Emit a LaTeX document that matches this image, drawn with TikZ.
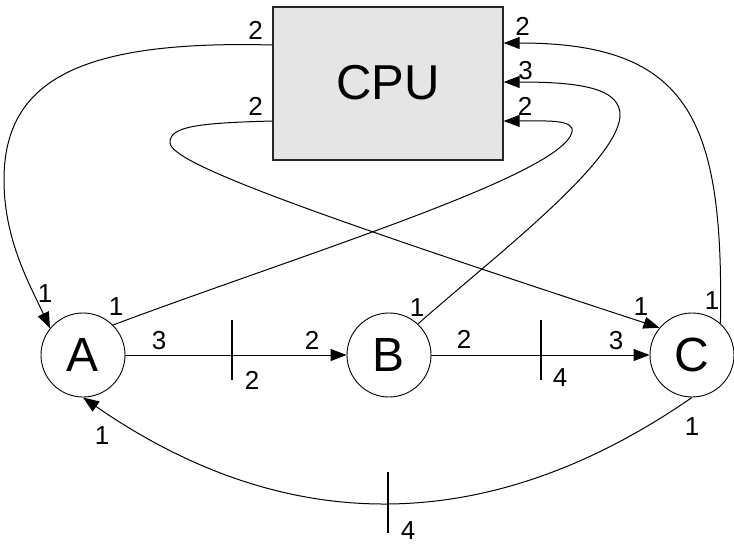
\documentclass[tikz,border=0pt]{standalone}
\usepackage{fontspec}
\setmainfont{Liberation Sans}
\usetikzlibrary{arrows.meta}
\begin{document}
\begin{tikzpicture}[x=1pt,y=-1pt,
  conn/.style={line width=1pt},
  arr/.style={conn,-{Triangle[length=16pt,width=12pt]}},
  station/.style={circle,draw,line width=0.9pt,minimum size=84pt,inner sep=0pt,font=\fontsize{48}{50}\selectfont},
  cpubox/.style={rectangle,draw=black!85,line width=1.3pt,fill=black!10,minimum width=230pt,minimum height=153pt,inner sep=0pt,font=\fontsize{49}{52}\selectfont},
  lbl/.style={inner sep=0pt,font=\fontsize{26}{28}\selectfont},
  tickmark/.style={line width=2pt}]
\useasboundingbox (0,0) rectangle (734,544);
\node[cpubox] (CPU) at (388,83.5) {\raisebox{2.5pt}{CPU}};
\node[station] (A) at (83,355) {A};
\node[station] (B) at (389,355) {B};
\node[station] (C) at (692,355) {C};

% straight connectors with ticks
\draw[arr] (A.east) -- (B.west) coordinate[pos=0.482] (t1);
\draw[tickmark] ([yshift=35pt]t1) -- ([yshift=-25pt]t1);
\draw[arr] (B.east) -- (C.west) coordinate[pos=0.5] (t2);
\draw[tickmark] ([yshift=35pt]t2) -- ([yshift=-25pt]t2);

% bottom arc C -> A
\draw[arr] (C.south) .. controls (489,538) and (286,538) .. (A.south) coordinate[pos=0.5] (t3);
\draw[tickmark] ([yshift=31pt]t3) -- ([yshift=-30pt]t3);

% CPU -> A
\draw[arr] ([yshift=38.5pt]CPU.west) .. controls (80,40) and (4,80) .. (4,180)
  .. controls (4,240) and (30,285) .. (A.141);
% CPU -> C
\draw[arr] ([yshift=-37.5pt]CPU.west) .. controls (200,123) and (169,126) .. (170,143)
  .. controls (172,163) and (300,210) .. (C.140);
% A -> CPU
\draw[arr] (A.45) .. controls (300,255) and (562,175) .. (572,132)
  .. controls (575,119) and (545,121) .. ([yshift=-37.5pt]CPU.east);
% B -> CPU
\draw[arr] (B.47) .. controls (490,260) and (615,165) .. (620,117)
  .. controls (622,88) and (580,82) .. ([yshift=1.5pt]CPU.east);
% C -> CPU
\draw[arr] (C.48) .. controls (724,120) and (690,43) .. ([yshift=40.5pt]CPU.east);

% labels
\node[lbl] (l1) at (255.5,30.5) {2};
\node[lbl] (l2) at (255.5,106.5) {2};
\node[lbl] (l3) at (522.5,26) {2};
\node[lbl] (l4) at (525.5,71) {3};
\node[lbl] (l5) at (525,106) {2};
\node[lbl] (l6) at (45,294) {1};
\node[lbl] (l7) at (116,307) {1};
\node[lbl] (l8) at (159,341) {3};
\node[lbl] (l9) at (252,380) {2};
\node[lbl] (l10) at (312,340) {2};
\node[lbl] (l11) at (417,308) {1};
\node[lbl] (l12) at (464,339) {2};
\node[lbl] (l13) at (560,378) {4};
\node[lbl] (l14) at (616,341) {3};
\node[lbl] (l15) at (641,307) {1};
\node[lbl] (l16) at (712,301) {1};
\node[lbl] (l17) at (692,427) {1};
\node[lbl] (l18) at (102,436) {1};
\node[lbl] (l19) at (408,531) {4};
\end{tikzpicture}
\end{document}
